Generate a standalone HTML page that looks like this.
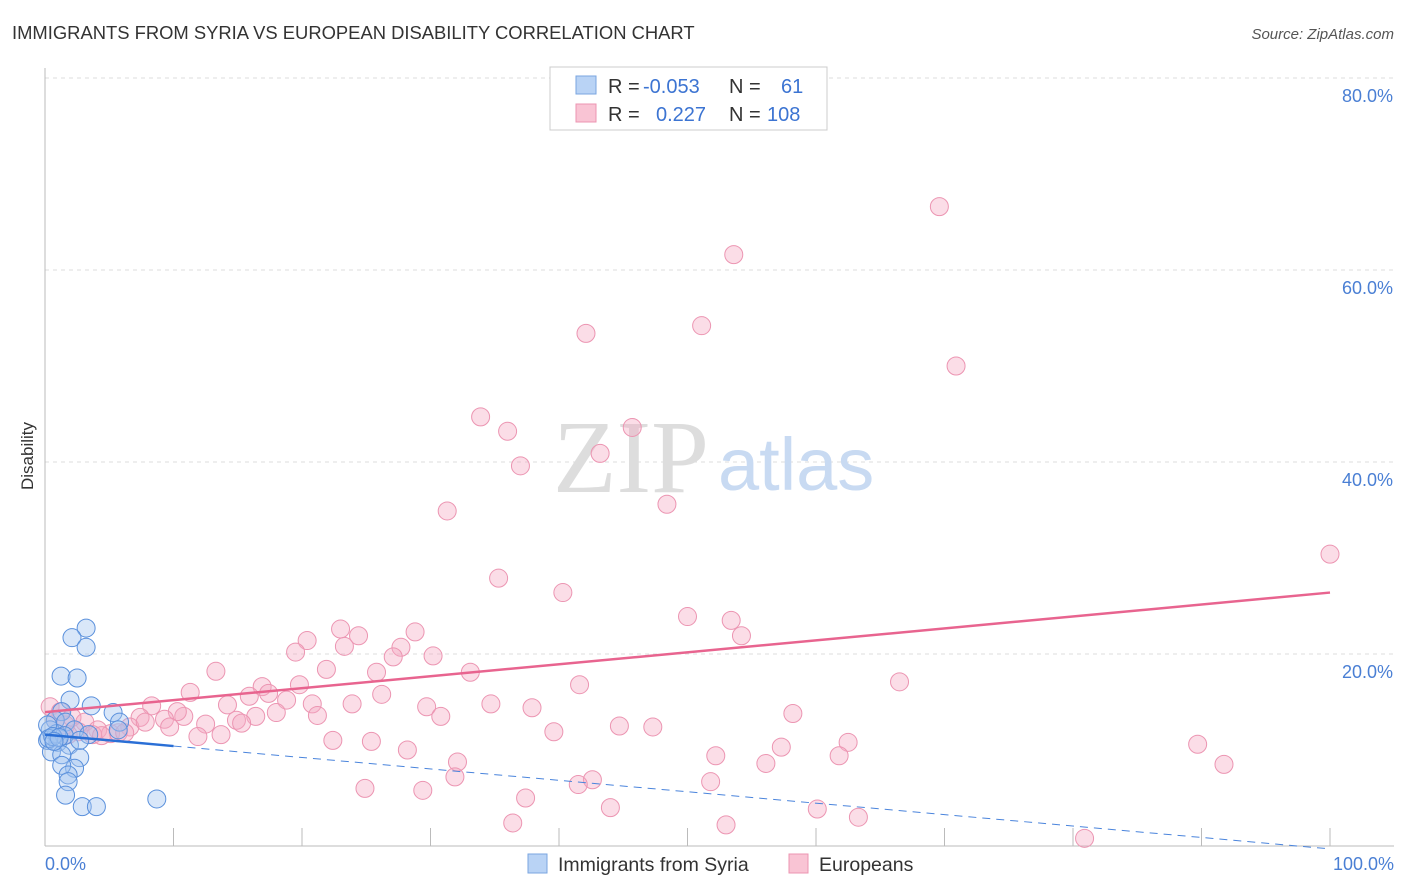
<!DOCTYPE html>
<html><head><meta charset="utf-8"><style>
body{margin:0;background:#fff;font-family:"Liberation Sans",sans-serif}
svg{display:block}
</style></head><body>
<svg width="1406" height="892" viewBox="0 0 1406 892">
<text x="12" y="39" font-size="18.4" fill="#333">IMMIGRANTS FROM SYRIA VS EUROPEAN DISABILITY CORRELATION CHART</text>
<text x="1394" y="39" font-size="15" fill="#555" font-style="italic" text-anchor="end">Source: ZipAtlas.com</text>
<text x="33" y="456" font-size="17" fill="#333" transform="rotate(-90 33 456)" text-anchor="middle">Disability</text>
<g id="grid"></g>
<line x1="45" y1="68" x2="45" y2="846" stroke="#bbb"/>
<line x1="45" y1="846" x2="1394" y2="846" stroke="#bbb"/>
<text x="553" y="492" font-size="104" fill="#ddd" font-family="Liberation Serif,serif">ZIP</text>
<text x="718" y="490" font-size="74" fill="#c8daf2">atlas</text>
<g id="pts"></g>
<g id="lines"></g>
<text x="45" y="870" font-size="18" fill="#4a7fd4">0.0%</text>
<text x="1394" y="870" font-size="18" fill="#4a7fd4" text-anchor="end">100.0%</text>
<g>
<rect x="550" y="67" width="277" height="63" fill="#fff" stroke="#ccc"/>
<rect x="576" y="76" width="20" height="18" fill="#b9d3f5" stroke="#7aa6e0"/>
<rect x="576" y="104" width="20" height="18" fill="#f9c4d4" stroke="#ec95b2"/>
<text x="608" y="93" font-size="20" fill="#333">R = <tspan x="643" fill="#3c74d2">-0.053</tspan></text>
<text x="729" y="93" font-size="20" fill="#333">N = <tspan x="781" fill="#3c74d2">61</tspan></text>
<text x="608" y="121" font-size="20" fill="#333">R = <tspan x="656" fill="#3c74d2">0.227</tspan></text>
<text x="729" y="121" font-size="20" fill="#333">N = <tspan x="767" fill="#3c74d2">108</tspan></text>
</g>
<g>
<rect x="528" y="854" width="19" height="19" fill="#b9d3f5" stroke="#7aa6e0"/>
<text x="558" y="871" font-size="19.5" fill="#333">Immigrants from Syria</text>
<rect x="789" y="854" width="19" height="19" fill="#f9c4d4" stroke="#ec95b2"/>
<text x="819" y="871" font-size="19.5" fill="#333">Europeans</text>
</g>
</svg>
<script>
const yTicks=[20,40,60,80];
const xTicks=[10,20,30,40,50,60,70,80,90,100];
const pinkX=[69.6,53.6,51.1,42.1,70.9,33.9,36.0,45.7,43.2,37.0,31.3,48.4,100,35.3,40.3,50.0,53.4,54.2,23.0,24.4,20.4,23.3,28.8,27.7,27.1,19.5,30.2,13.3,21.9,25.8,33.1,66.5,19.8,41.6,16.9,11.3,17.4,15.9,26.2,8.3,14.2,18.8,20.8,23.9,29.7,34.7,37.9,10.8,10.3,18.0,21.2,30.8,58.2,14.9,16.4,9.3,7.4,12.5,15.3,9.7,6.6,7.8,44.7,47.3,39.6,11.9,13.7,22.4,25.4,62.5,89.7,57.3,28.2,52.2,61.8,32.1,56.1,91.75,31.9,51.8,42.6,41.5,24.9,29.4,37.4,44.0,60.1,63.3,36.4,53.0,80.9,0.4,1.2,2.1,3.1,4.1,5.1,5.7,2.6,3.7,1.6,0.8,4.4,6.2,1.8];
const pinkY=[66.6,61.6,54.2,53.4,50.0,44.7,43.2,43.6,40.9,39.6,34.9,35.6,30.4,27.9,26.4,23.9,23.5,21.9,22.6,21.9,21.4,20.8,22.3,20.7,19.7,20.2,19.8,18.2,18.4,18.1,18.1,17.1,16.8,16.8,16.6,16.0,15.9,15.6,15.8,14.6,14.7,15.2,14.8,14.8,14.5,14.8,14.4,13.5,14.0,13.9,13.6,13.5,13.8,13.1,13.5,13.2,13.4,12.7,12.8,12.4,12.4,12.9,12.5,12.4,11.9,11.4,11.6,11.0,10.9,10.8,10.6,10.3,10.0,9.4,9.4,8.75,8.6,8.5,7.2,6.7,6.9,6.4,6.0,5.8,5.0,4.0,3.85,3.0,2.4,2.2,0.8,14.5,14.0,13.4,12.9,12.1,11.7,11.8,11.9,11.6,12.6,13.1,11.5,11.8,11.6];
const blueX=[3.2,2.1,3.2,1.25,2.5,1.95,3.6,5.3,5.8,5.7,1.3,0.8,1.6,2.3,0.4,0.2,1.0,1.9,0.5,1.3,2.7,2.3,1.3,1.8,1.8,1.6,2.9,4.0,8.7,0.9,1.5,0.2,3.4,2.7,0.3,0.6,1.1,0.7];
const blueY=[22.7,21.7,20.7,17.7,17.5,15.2,14.6,13.9,12.9,12.1,14.0,13.1,12.9,12.1,12.1,11.0,10.8,10.5,9.8,9.5,9.2,8.1,8.4,7.4,6.7,5.3,4.1,4.1,4.9,11.7,11.5,12.6,11.6,11.0,11.2,11.4,11.3,10.9];
const pinkTrend=[13.95,26.4];
const blueTrend=[11.6,-0.3];
const blueSolidEnd=10;
const X=v=>45+v*12.85, Y=v=>846-v*9.6;
const NS='http://www.w3.org/2000/svg';
const mk=(t,a,p)=>{const e=document.createElementNS(NS,t);for(const k in a)e.setAttribute(k,a[k]);p.appendChild(e);return e;};
const g=document.getElementById('grid');
yTicks.forEach(v=>{
 const l=mk('line',{x1:45,x2:1394,y1:Y(v),y2:Y(v),stroke:'#ddd','stroke-dasharray':'4,4'},g);
 
 
 const t=mk('text',{x:1393,y:Y(v)+24,'font-size':18,fill:'#4a7fd4','text-anchor':'end'},g);
 t.textContent=v.toFixed(1)+'%';
 
 
});
xTicks.forEach(v=>{
 const l=mk('line',{x1:X(v),x2:X(v),y1:828,y2:846,stroke:'#bbb'},g);
 
 
});
const p=document.getElementById('pts');
pinkX.forEach((v,i)=>{
 const c=mk('circle',{cx:X(v),cy:Y(pinkY[i]),r:9,fill:'rgba(246,170,195,0.4)',stroke:'#ec95b2','stroke-width':1},p);
 
 
});
blueX.forEach((v,i)=>{
 const c=mk('circle',{cx:X(v),cy:Y(blueY[i]),r:9,fill:'rgba(160,195,240,0.4)',stroke:'#5a90dc','stroke-width':1},p);
 
 
});
const L=document.getElementById('lines');
const pl=mk('line',{x1:X(0),y1:Y(pinkTrend[0]),x2:X(100),y2:Y(pinkTrend[1]),stroke:'#e8648f','stroke-width':2.5},L);


const bAt=v=>blueTrend[0]+(blueTrend[1]-blueTrend[0])*v/100;
const bs=mk('line',{x1:X(0),y1:Y(bAt(0)),x2:X(blueSolidEnd),y2:Y(bAt(blueSolidEnd)),stroke:'#2a6fd6','stroke-width':2.5},L);


const bd=mk('line',{x1:X(blueSolidEnd),y1:Y(bAt(blueSolidEnd)),x2:X(100),y2:Y(bAt(100)),stroke:'#4a84dc','stroke-width':1,'stroke-dasharray':'8,6'},L);


</script>
</body></html>
